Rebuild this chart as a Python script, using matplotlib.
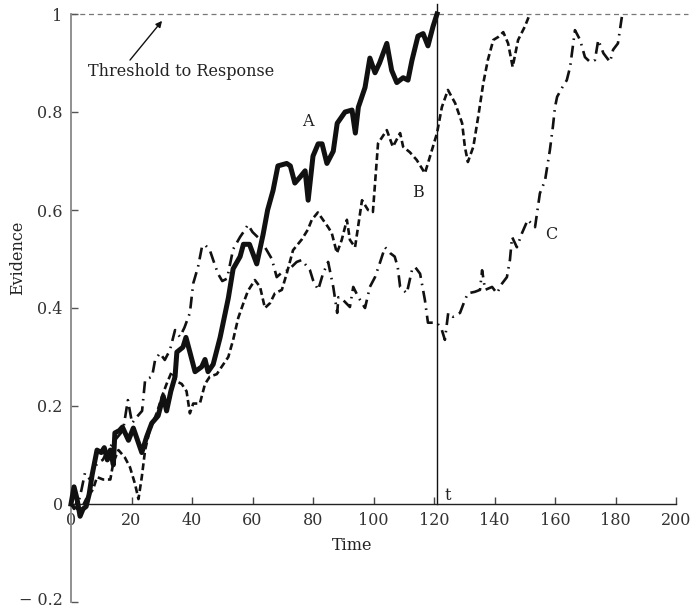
import matplotlib
matplotlib.use("Agg")
import matplotlib.pyplot as plt

plt.rcParams['font.family'] = ['DejaVu Serif']

# ---- data ----
A_t = [0, 1, 2, 3, 4, 5, 6, 7, 8.6, 10, 11, 12, 13, 14, 14.5, 16, 17, 19, 20.6, 22, 23.4, 25,
       26.7, 28.8, 30.5, 31.6, 33, 34.4, 35, 37, 38, 39.3, 41, 43.2, 44.3, 45.3, 47, 49.3, 52,
       53.6, 55.9, 57, 59, 61.4, 63.5, 65, 66.8, 68.4, 71.3, 72.5, 74, 75.7, 77.4, 78.4, 80,
       81.7, 83, 84.6, 86.7, 88, 90.6, 92.9, 94, 95, 97.2, 98.8, 100.5, 102, 104.4, 106,
       107.7, 109.8, 111.4, 112.7, 114.7, 116.4, 118, 119.7, 121]
A_v = [0.0, 0.035, 0.01, -0.025, -0.01, -0.005, 0.02, 0.06, 0.11, 0.105, 0.115, 0.09, 0.11,
       0.08, 0.145, 0.15, 0.157, 0.13, 0.155, 0.13, 0.105, 0.137, 0.165, 0.18, 0.22, 0.19,
       0.23, 0.26, 0.31, 0.32, 0.34, 0.31, 0.27, 0.28, 0.295, 0.27, 0.285, 0.34, 0.42, 0.48,
       0.505, 0.53, 0.53, 0.49, 0.55, 0.60, 0.64, 0.69, 0.695, 0.69, 0.655, 0.667, 0.68, 0.62,
       0.71, 0.735, 0.735, 0.695, 0.72, 0.777, 0.80, 0.804, 0.757, 0.81, 0.85, 0.91, 0.88,
       0.90, 0.94, 0.885, 0.86, 0.87, 0.865, 0.905, 0.955, 0.96, 0.935, 0.975, 1.0]

B_t = [0, 1, 2, 3, 5, 7.3, 8.6, 10.6, 13, 14, 15.7, 17.8, 19.5, 21.2, 22.3, 23.4, 24.5, 26,
       28.3, 30.4, 31.6, 33.3, 35, 36.6, 38.2, 39.3, 40.4, 42.6, 44.3, 45.9, 48.2, 49.8, 52,
       53.6, 55.3, 57, 58.5, 60.8, 62.5, 64.1, 65.8, 67.4, 69.7, 71.3, 73.4, 76.3, 78.3, 79.6,
       81.6, 83.3, 85, 86.2, 87.9, 89.5, 91.2, 92.2, 93.9, 96.2, 98.2, 99.8, 101.5, 104.4,
       106.4, 108.8, 109.8, 112, 114.3, 117, 119.3, 121, 122.6, 124.6, 127, 129.3, 130.2,
       131.2, 133, 134.6, 136.3, 137.8, 139.6, 141.2, 142.9, 144.5, 146, 147.8, 150, 151.7]
B_v = [0, -0.01, 0.005, -0.015, 0.01, 0.03, 0.055, 0.05, 0.05, 0.085, 0.11, 0.095, 0.075,
       0.04, 0.01, 0.055, 0.11, 0.15, 0.185, 0.225, 0.245, 0.27, 0.25, 0.245, 0.23, 0.185,
       0.205, 0.205, 0.245, 0.26, 0.265, 0.28, 0.30, 0.335, 0.38, 0.41, 0.435, 0.457, 0.443,
       0.40, 0.41, 0.43, 0.437, 0.47, 0.518, 0.54, 0.56, 0.58, 0.595, 0.58, 0.565, 0.553,
       0.512, 0.539, 0.58, 0.539, 0.524, 0.62, 0.60, 0.596, 0.736, 0.763, 0.729, 0.757, 0.729,
       0.718, 0.702, 0.675, 0.722, 0.757, 0.81, 0.845, 0.818, 0.777, 0.729, 0.698, 0.729,
       0.79, 0.859, 0.906, 0.947, 0.953, 0.963, 0.94, 0.892, 0.947, 0.974, 1.0]

C_t = [0, 2, 3.5, 4.6, 6.3, 8.6, 10.5, 12.2, 14.5, 17.2, 18.8, 20.2, 21.8, 23.5, 24.5, 26.8,
       27.8, 29.4, 31, 32.7, 34.4, 36, 37.5, 39.3, 40.4, 42, 43.3, 44.3, 45.9, 47, 48.6, 50,
       51.6, 53.6, 55.9, 57, 58.5, 60, 62.5, 64.5, 66.4, 68, 69.8, 71.8, 74.6, 76.3, 79, 80,
       81.7, 83.3, 85, 86.7, 88, 88.4, 90, 92.2, 93.3, 95, 97.2, 98.8, 100.5, 102, 103.8,
       105.5, 107, 108, 108.8, 111, 112.7, 113.7, 115.4, 117, 118, 121, 122.6, 123.6, 124.7,
       126.3, 128.6, 130.2, 131.2, 133.5, 135.2, 135.9, 136.9, 139.2, 140.8, 142.5, 144.1,
       145.1, 145.8, 147.4, 149.1, 151, 153.4, 155, 156.7, 158.3, 159.3, 160, 160.7, 162.3,
       163.9, 165, 165.6, 166.6, 168.3, 169.9, 171.6, 173.2, 174.3, 176, 178.2, 179.2, 180.8,
       182.1]
C_v = [0, -0.01, 0.03, 0.063, 0.05, 0.083, 0.09, 0.11, 0.13, 0.15, 0.212, 0.165, 0.178, 0.19,
       0.253, 0.26, 0.294, 0.308, 0.294, 0.314, 0.355, 0.341, 0.36, 0.39, 0.45, 0.484, 0.525,
       0.529, 0.518, 0.498, 0.47, 0.455, 0.46, 0.52, 0.545, 0.555, 0.57, 0.555, 0.54, 0.52,
       0.50, 0.463, 0.473, 0.477, 0.494, 0.498, 0.477, 0.457, 0.437, 0.47, 0.494, 0.443, 0.39,
       0.422, 0.416, 0.402, 0.443, 0.422, 0.40, 0.443, 0.463, 0.49, 0.524, 0.512, 0.505,
       0.484, 0.443, 0.43, 0.477, 0.484, 0.47, 0.416, 0.37, 0.37, 0.355, 0.335, 0.39, 0.382,
       0.39, 0.416, 0.43, 0.433, 0.437, 0.477, 0.437, 0.443, 0.43, 0.45, 0.463, 0.498, 0.545,
       0.524, 0.553, 0.58, 0.565, 0.634, 0.66, 0.722, 0.77, 0.81, 0.831, 0.849, 0.865, 0.892,
       0.92, 0.967, 0.947, 0.912, 0.902, 0.906, 0.947, 0.92, 0.902, 0.927, 0.94, 0.994]

threshold = 1.0
t_response = 121
x_ticks = [0, 20, 40, 60, 80, 100, 120, 140, 160, 180, 200]
y_ticks = [-0.2, 0, 0.2, 0.4, 0.6, 0.8, 1]
y_tick_labels = ['\u2212 0.2', '0', '0.2', '0.4', '0.6', '0.8', '1']
series_labels = ['A', 'B', 'C']

# ---- figure ----
fig = plt.figure(figsize=(6.9, 6.08), dpi=100)
ax = fig.add_axes([71 / 690, 6 / 608, 605 / 690, 588 / 608])
ax.set_xlim(0, 200)
ax.set_ylim(-0.2, 1.0)

fs = 11.5
tc = '#333333'

# threshold line
ax.plot([0, 204], [threshold, threshold], color='#777777', lw=0.9,
        dashes=(4, 3), clip_on=False, zorder=1)

# series
ax.plot(A_t, A_v, color='#111111', lw=3.6, solid_joinstyle='round', clip_on=False, zorder=4)
lb, = ax.plot(B_t, B_v, color='#111111', lw=1.9, clip_on=False, zorder=3)
lb.set_dashes((2.6, 1.4))
lc, = ax.plot(C_t, C_v, color='#111111', lw=1.9, clip_on=False, zorder=3)
lc.set_dashes((4.5, 2.2, 0.6, 2.2))

# response time line
ax.plot([t_response, t_response], [0, 1.02], color='#111111', lw=1.0, clip_on=False, zorder=2)

# spines
for s in ['top', 'right']:
    ax.spines[s].set_visible(False)
ax.spines['bottom'].set_position(('data', 0))
ax.spines['bottom'].set_color('#222222')
ax.spines['bottom'].set_linewidth(1.0)
ax.spines['left'].set_color('#888888')
ax.spines['left'].set_linewidth(1.3)

ax.set_xticks(x_ticks)
ax.set_xticklabels([str(v) for v in x_ticks])
ax.set_yticks(y_ticks)
# lowest label is placed separately so that it stays inside the picture
ax.set_yticklabels([''] + y_tick_labels[1:])
ax.tick_params(axis='x', direction='in', length=5, width=1.0, color='#444444',
               pad=6, labelsize=fs, labelcolor=tc)
ax.tick_params(axis='y', direction='in', length=5, width=1.0, color='#555555',
               pad=6, labelsize=fs, labelcolor=tc)
for lbl in ax.get_yticklabels():
    lbl.set_va('center_baseline')
ax.annotate(y_tick_labels[0], xy=(0, y_ticks[0]), xytext=(-6, -2.2),
            textcoords='offset points', ha='right', va='baseline',
            fontsize=fs, color=tc, annotation_clip=False)

# axis labels
ax.text(93, -0.084, 'Time', ha='center', va='center', fontsize=fs, color='#222222')
ax.text(-17.5, 0.502, 'Evidence', ha='center', va='center', rotation=90,
        fontsize=fs, color='#222222', clip_on=False)

# annotations
ax.annotate('', xy=(30.1, 0.986), xytext=(19.5, 0.906),
            arrowprops=dict(arrowstyle='-|>', color='#111111', lw=1.0,
                            mutation_scale=9, shrinkA=0, shrinkB=0))
ax.text(5.6, 0.882, 'Threshold to Response', ha='left', va='center', fontsize=fs, color='#222222')
ax.text(78.3, 0.78, series_labels[0], ha='center', va='center', fontsize=fs, color='#222222')
ax.text(114.7, 0.635, series_labels[1], ha='center', va='center', fontsize=fs, color='#222222')
ax.text(158.7, 0.551, series_labels[2], ha='center', va='center', fontsize=fs, color='#222222')
ax.text(124.6, 0.018, 't', ha='center', va='center', fontsize=fs, color='#222222')

fig.savefig('out.png', dpi=100)
